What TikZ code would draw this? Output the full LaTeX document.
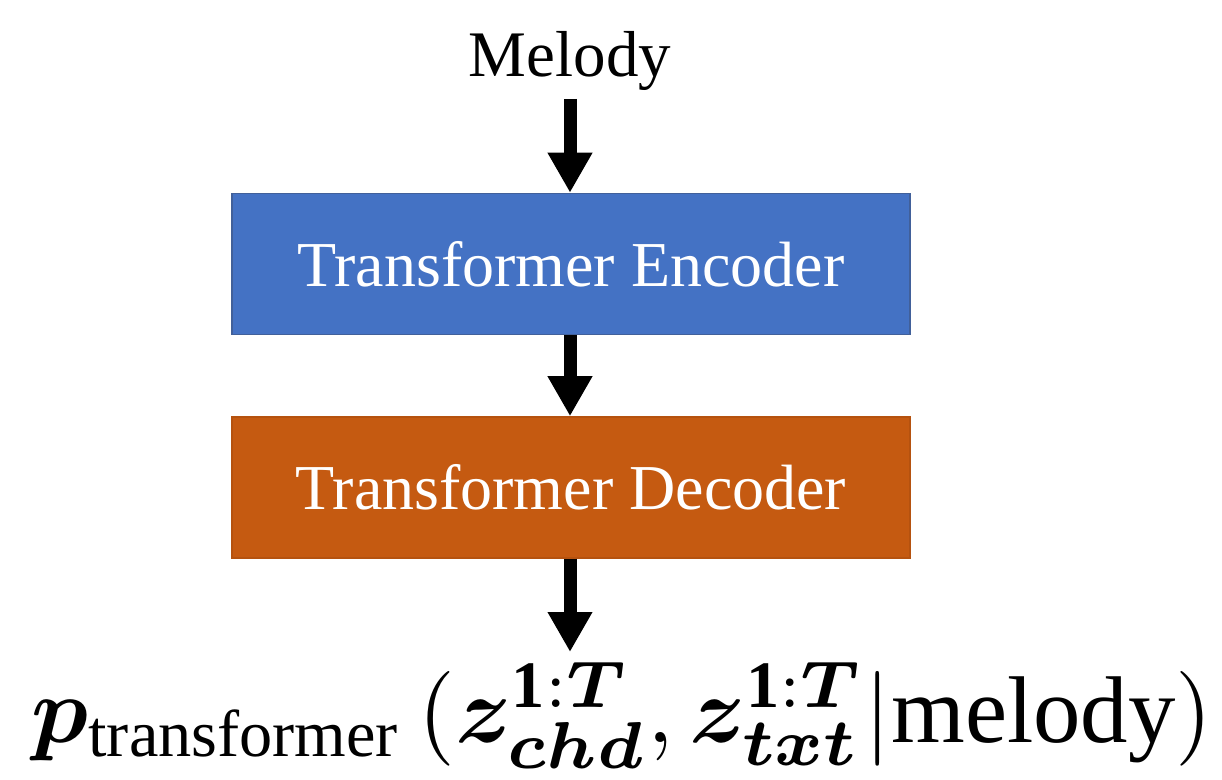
\documentclass[tikz,border=0pt]{standalone}
\usepackage{amsmath,bm}
\usepackage{fontspec}
\setmainfont{Liberation Serif}
\usetikzlibrary{arrows.meta}
\definecolor{encblue}{HTML}{4472C4}
\definecolor{encedge}{HTML}{41609A}
\definecolor{decorange}{HTML}{C55A11}
\definecolor{decedge}{HTML}{B5520F}
\tikzset{
  block/.style={minimum width=678pt, minimum height=141pt, inner sep=0pt, line width=1.5pt,
    text=white, font=\fontsize{64}{70}\selectfont},
  bigarrow/.style={line width=13pt, -{Triangle[width=42pt,length=40pt]}},
}
\begin{document}
\begin{tikzpicture}[x=1pt,y=1pt]
\useasboundingbox (0,0) rectangle (1222,779);
\fill[white] (0,0) rectangle (1222,779);
\node[font=\fontsize{65}{70}\selectfont, anchor=base] (mel) at (570,702) {Melody};
\coordinate (melb) at (570,680);
\node[block, fill=encblue, draw=encedge] (enc) at (571,515) {Transformer Encoder};
\node[block, fill=decorange, draw=decedge] (dec) at (571,291.5) {Transformer Decoder};
\coordinate (outt) at (570,127);
\node[anchor=base, inner sep=0pt] (out) at (622,37)
  {\resizebox{1180pt}{!}{$\bm{p}_{\mathrm{transformer}}\,(\bm{z}^{\mathbf{1}:\bm{T}}_{\bm{chd}},\bm{z}^{\mathbf{1}:\bm{T}}_{\bm{txt}}|\mathrm{melody})$}};
\draw[bigarrow] (melb) -- (570,0 |- enc.north);
\draw[bigarrow] (570,0 |- enc.south) -- (570,0 |- dec.north);
\draw[bigarrow] (570,0 |- dec.south) -- (outt);
\end{tikzpicture}
\end{document}
